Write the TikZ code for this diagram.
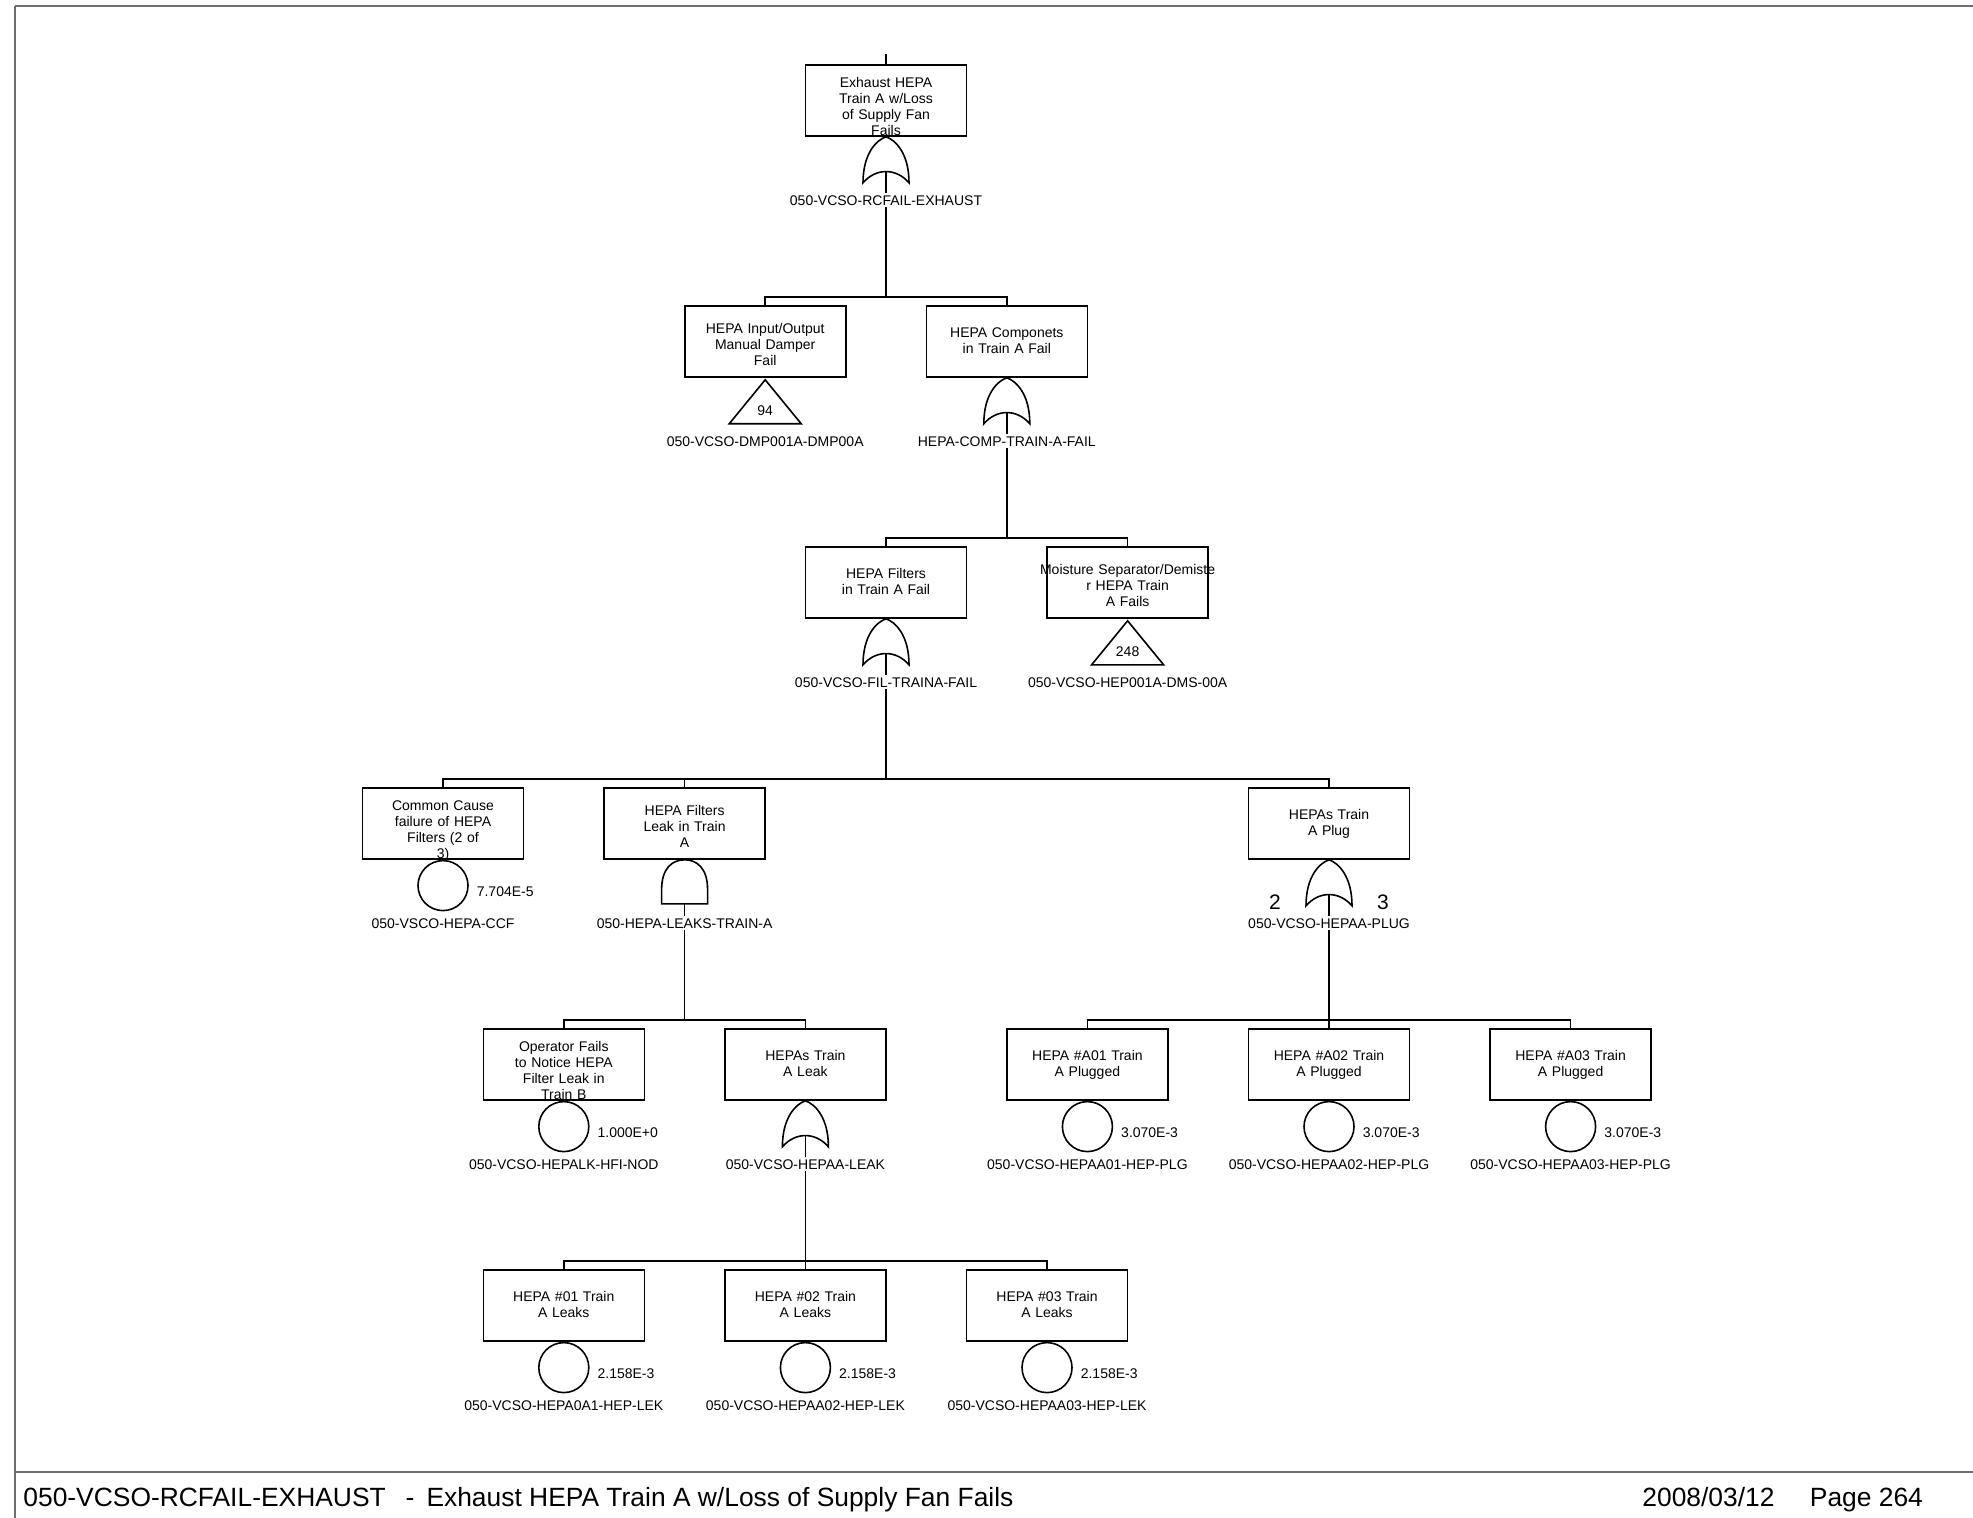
\documentclass[tikz,border=0pt]{standalone}
\usepackage{fontspec}
\setmainfont{Liberation Sans}
\usetikzlibrary{positioning, calc, backgrounds}

\definecolor{PageGray}{RGB}{110, 110, 110}

\tikzset{
  box/.style={rectangle, draw=black, line width=0.8pt,
              minimum width=80.5pt, minimum height=35.5pt,
              inner xsep=2pt, inner ysep=0pt, text width=72pt, align=center,
              text height=5.1pt, text depth=9.2pt,
              font=\fontsize{7}{8}\selectfont},
  box3/.style={box, text depth=13pt},
  box4/.style={box, text depth=18pt},
  event/.style={circle, draw=black, line width=0.8pt, minimum size=25pt, inner sep=0pt},
  prob/.style={inner sep=0pt, text height=5.1pt, text depth=0pt,
               font=\fontsize{7}{8}\selectfont},
  idlbl/.style={inner sep=1pt, fill=white, text height=5.1pt, text depth=0pt,
                font=\fontsize{7}{8}\selectfont},
  vote/.style={inner sep=0pt, font=\fontsize{10.5}{12}\selectfont},
  wire/.style={line width=0.8pt, color=black},
  gateline/.style={line width=0.8pt, color=black},
  pageline/.style={line width=1pt, color=PageGray},
  foot/.style={inner sep=0pt, font=\fontsize{13.2}{15}\selectfont},
  orgate/.pic={
    \draw[gateline] (-23,46) .. controls (-23,16) and (-9,3) .. (0,0)
        .. controls (9,3) and (23,16) .. (23,46)
        .. controls (10,31) and (-10,31) .. cycle;
    \coordinate (-out) at (0,34.75);
  },
  andgate/.pic={
    \draw[gateline] (-23,44) -- (-23,30) .. controls (-23,8) and (-12,0) .. (0,0)
        .. controls (12,0) and (23,8) .. (23,30) -- (23,44) -- cycle;
    \coordinate (-out) at (0,44);
  },
  transfer/.pic={
    \draw[gateline] (0,2) -- (36,46) -- (-36,46) -- cycle;
    \node[prob] (-num) at (0,33) {#1};
  },
}

\begin{document}
\begin{tikzpicture}[x=0.5pt, y=-0.5pt]
  \useasboundingbox (0,0) rectangle (1973,1518);

  % page frame
  \draw[pageline] (15,6) -- (1973,6);
  \draw[pageline] (15,6) -- (15,1518);
  \draw[pageline] (15,1472) -- (1973,1472);

  % top event
  \node[box4] (top) at (886,100.5) {Exhaust HEPA\\Train A w/Loss\\of Supply Fan\\Fails};
  \coordinate (stub) at ([yshift=5pt]top.north);
  \pic (gtop) at (top.south) {orgate};
  \node[idlbl, below=28pt of top] (ltop) {050-VCSO-RCFAIL-EXHAUST};

  % level 2
  \node[box3, below=84.2pt of top, xshift=-60.4pt] (damper)
       {HEPA Input/Output\\Manual Damper\\Fail};
  \pic (tdamper) at (damper.south) {transfer=94};
  \node[idlbl, below=28pt of damper] (ldamper) {050-VCSO-DMP001A-DMP00A};

  \node[box, below=84.2pt of top, xshift=60.4pt] (comp) {HEPA Componets\\in Train A Fail};
  \pic (gcomp) at (comp.south) {orgate};
  \node[idlbl, below=28pt of comp] (lcomp) {HEPA-COMP-TRAIN-A-FAIL};

  % level 3
  \node[box, below=84.2pt of comp, xshift=-60.4pt] (filters) {HEPA Filters\\in Train A Fail};
  \pic (gfilters) at (filters.south) {orgate};
  \node[idlbl, below=28pt of filters] (lfilters) {050-VCSO-FIL-TRAINA-FAIL};

  \node[box3, below=84.2pt of comp, xshift=60.4pt] (moist)
       {\makebox[0pt]{Moisture Separator/Demiste}\\r HEPA Train\\A Fails};
  \pic (tmoist) at (moist.south) {transfer=248};
  \node[idlbl, below=28pt of moist] (lmoist) {050-VCSO-HEP001A-DMS-00A};

  % level 4
  \node[box4, below=84.2pt of filters, xshift=-221.5pt] (ccf)
       {Common Cause\\failure of HEPA\\Filters (2 of\\3)};
  \node[event, below=0pt of ccf] (eccf) {};
  \node[prob, right=3.8pt of eccf, yshift=-2.7pt] (pccf) {7.704E-5};
  \node[idlbl, below=28pt of ccf] (lccf) {050-VSCO-HEPA-CCF};

  \node[box3, below=84.2pt of filters, xshift=-100.7pt] (leaks)
       {HEPA Filters\\Leak in Train\\A};
  \pic (gleaks) at (leaks.south) {andgate};
  \node[idlbl, below=28pt of leaks] (lleaks) {050-HEPA-LEAKS-TRAIN-A};

  \node[box, below=84.2pt of filters, xshift=221.5pt] (plug) {HEPAs Train\\A Plug};
  \pic (gplug) at (plug.south) {orgate};
  \node[vote] (v2) at ([xshift=-27pt, yshift=-21.4pt]plug.south) {2};
  \node[vote] (v3) at ([xshift=27pt, yshift=-21.4pt]plug.south) {3};
  \node[idlbl, below=28pt of plug] (lplug) {050-VCSO-HEPAA-PLUG};

  % level 5
  \node[box4, below=84.2pt of leaks, xshift=-60.4pt] (oper)
       {Operator Fails\\to Notice HEPA\\Filter Leak in\\Train B};
  \node[event, below=0pt of oper] (eoper) {};
  \node[prob, right=3.8pt of eoper, yshift=-2.7pt] (poper) {1.000E+0};
  \node[idlbl, below=28pt of oper] (loper) {050-VCSO-HEPALK-HFI-NOD};

  \node[box, below=84.2pt of leaks, xshift=60.4pt] (leak) {HEPAs Train\\A Leak};
  \pic (gleak) at (leak.south) {orgate};
  \node[idlbl, below=28pt of leak] (lleak) {050-VCSO-HEPAA-LEAK};

  \node[box, below=84.2pt of plug, xshift=-120.8pt] (a01) {HEPA \#A01 Train\\A Plugged};
  \node[event, below=0pt of a01] (ea01) {};
  \node[prob, right=3.8pt of ea01, yshift=-2.7pt] (pa01) {3.070E-3};
  \node[idlbl, below=28pt of a01] (la01) {050-VCSO-HEPAA01-HEP-PLG};

  \node[box, below=84.2pt of plug] (a02) {HEPA \#A02 Train\\A Plugged};
  \node[event, below=0pt of a02] (ea02) {};
  \node[prob, right=3.8pt of ea02, yshift=-2.7pt] (pa02) {3.070E-3};
  \node[idlbl, below=28pt of a02] (la02) {050-VCSO-HEPAA02-HEP-PLG};

  \node[box, below=84.2pt of plug, xshift=120.8pt] (a03) {HEPA \#A03 Train\\A Plugged};
  \node[event, below=0pt of a03] (ea03) {};
  \node[prob, right=3.8pt of ea03, yshift=-2.7pt] (pa03) {3.070E-3};
  \node[idlbl, below=28pt of a03] (la03) {050-VCSO-HEPAA03-HEP-PLG};

  % level 6
  \node[box, below=84.2pt of leak, xshift=-120.8pt] (l01) {HEPA \#01 Train\\A Leaks};
  \node[event, below=0pt of l01] (el01) {};
  \node[prob, right=3.8pt of el01, yshift=-2.7pt] (pl01) {2.158E-3};
  \node[idlbl, below=28pt of l01] (ll01) {050-VCSO-HEPA0A1-HEP-LEK};

  \node[box, below=84.2pt of leak] (l02) {HEPA \#02 Train\\A Leaks};
  \node[event, below=0pt of l02] (el02) {};
  \node[prob, right=3.8pt of el02, yshift=-2.7pt] (pl02) {2.158E-3};
  \node[idlbl, below=28pt of l02] (ll02) {050-VCSO-HEPAA02-HEP-LEK};

  \node[box, below=84.2pt of leak, xshift=120.8pt] (l03) {HEPA \#03 Train\\A Leaks};
  \node[event, below=0pt of l03] (el03) {};
  \node[prob, right=3.8pt of el03, yshift=-2.7pt] (pl03) {2.158E-3};
  \node[idlbl, below=28pt of l03] (ll03) {050-VCSO-HEPAA03-HEP-LEK};

  % connectors, behind the gate labels
  \begin{scope}[on background layer]
    \draw[wire] (stub) -- (top.north);
    \draw[wire] (gtop-out) |- ([yshift=4.2pt]damper.north) -- (damper.north);
    \draw[wire] (gtop-out) |- ([yshift=4.2pt]comp.north) -- (comp.north);
    \draw[wire] (gcomp-out) |- ([yshift=4.2pt]filters.north) -- (filters.north);
    \draw[wire] (gcomp-out) |- ([yshift=4.2pt]moist.north) -- (moist.north);
    \draw[wire] (gfilters-out) |- ([yshift=4.2pt]ccf.north) -- (ccf.north);
    \draw[wire] (gfilters-out) |- ([yshift=4.2pt]leaks.north) -- (leaks.north);
    \draw[wire] (gfilters-out) |- ([yshift=4.2pt]plug.north) -- (plug.north);
    \draw[wire] (gleaks-out) |- ([yshift=4.2pt]oper.north) -- (oper.north);
    \draw[wire] (gleaks-out) |- ([yshift=4.2pt]leak.north) -- (leak.north);
    \draw[wire] (gplug-out) |- ([yshift=4.2pt]a01.north) -- (a01.north);
    \draw[wire] (gplug-out) |- ([yshift=4.2pt]a02.north) -- (a02.north);
    \draw[wire] (gplug-out) |- ([yshift=4.2pt]a03.north) -- (a03.north);
    \draw[wire] (gleak-out) |- ([yshift=4.2pt]l01.north) -- (l01.north);
    \draw[wire] (gleak-out) |- ([yshift=4.2pt]l02.north) -- (l02.north);
    \draw[wire] (gleak-out) |- ([yshift=4.2pt]l03.north) -- (l03.north);
  \end{scope}

  % footer
  \node[foot, anchor=base west] (ftitle) at (23,1506)
       {050-VCSO-RCFAIL-EXHAUST\hspace{10pt}-\hspace{6pt}Exhaust HEPA Train A w/Loss of Supply Fan Fails};
  \node[foot, anchor=base west] (fdate) at (1642,1506) {2008/03/12};
  \node[foot, anchor=base west] (fpage) at (1809.5,1506) {Page 264};
\end{tikzpicture}
\end{document}
